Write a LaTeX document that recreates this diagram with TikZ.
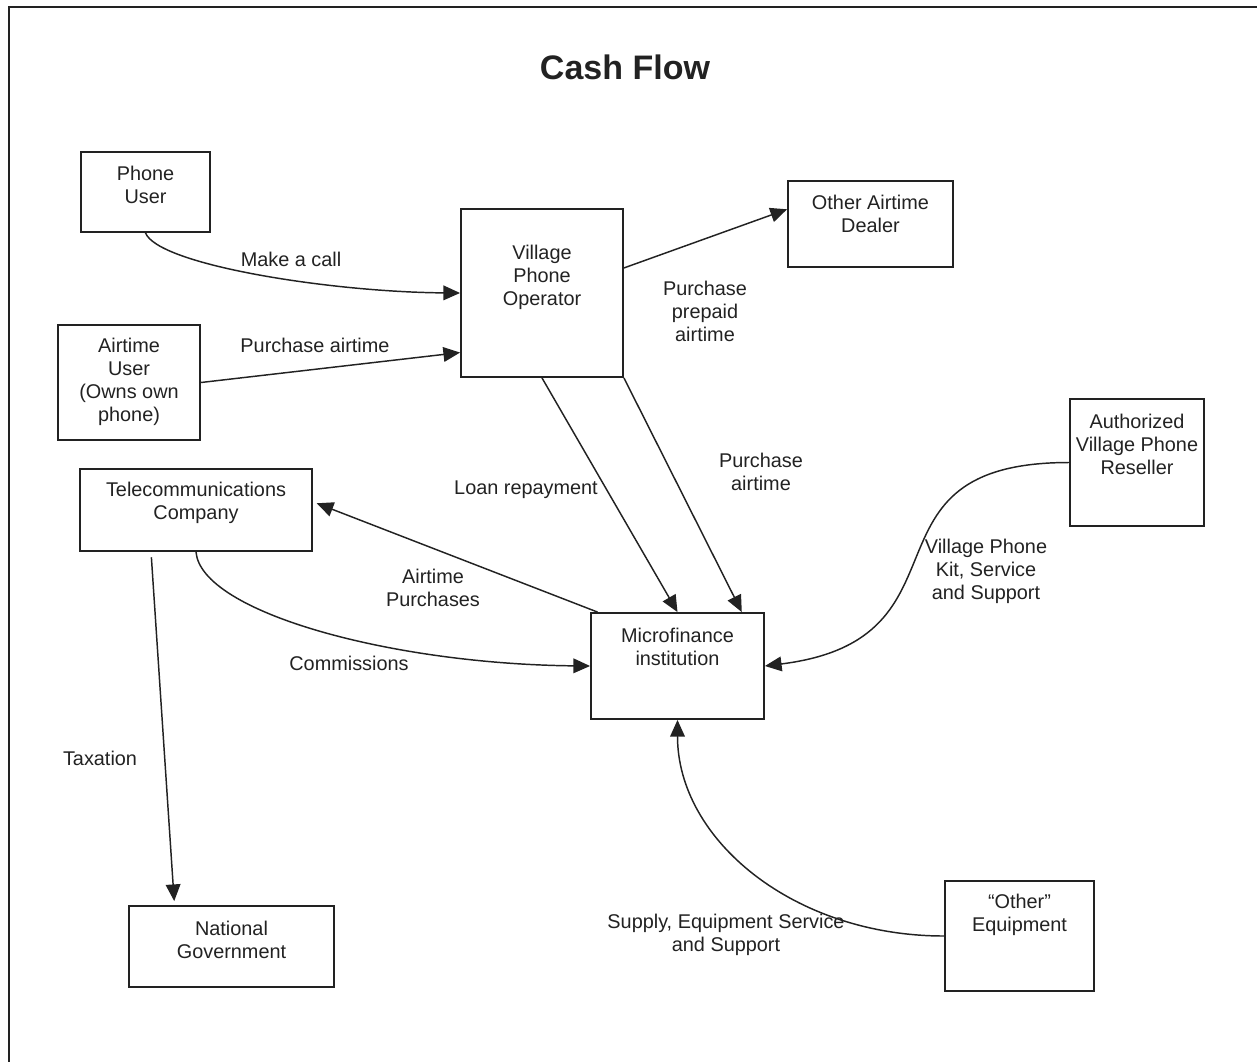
\documentclass[tikz,border=0pt]{standalone}
\usepackage{fontspec}
\setmainfont{Liberation Sans}
\usetikzlibrary{arrows.meta,fit}
\definecolor{ink}{HTML}{222222}

\begin{document}
\begin{tikzpicture}[x=0.75pt,y=0.75pt,>={Triangle[length=12.5pt,width=11pt]}]
 \tikzstyle{box}=[draw=ink,line width=1.4pt,inner sep=0pt]
 \tikzstyle{txt}=[text=ink,align=center,inner sep=0pt,font=\fontsize{14.9}{17.25}\selectfont]
 \tikzstyle{flow}=[draw=ink,line width=1.1pt,->]
 \path[use as bounding box] (0,0) rectangle (1257,-1061);
 \draw[ink,line width=1.5pt] (9,-7) rectangle (1275,-1080);

 \node (title) at (625,-67) [text=ink,font=\fontsize{25.5}{30}\selectfont\bfseries] {Cash Flow};

 % boxes
 \node (pu) [box,fit={(81,-152) (210,-232)}] {};
 \node (au) [box,fit={(58,-325) (200,-440)}] {};
 \node (vpo) [box,fit={(461,-209) (623,-377)}] {};
 \node (oad) [box,fit={(788,-181) (953,-267)}] {};
 \node (tc) [box,fit={(80,-469) (312,-551)}] {};
 \node (mfi) [box,fit={(591,-613) (764,-719)}] {};
 \node (res) [box,fit={(1070,-399) (1204,-526)}] {};
 \node (ng) [box,fit={(129,-906) (334,-987)}] {};
 \node (eq) [box,fit={(945,-881) (1094,-991)}] {};

 \node (pu-t) at (145.5,-184.5) [txt] {Phone\\User};
 \node (au-t) at (129,-381.5) [txt] {Airtime\\User\\(Owns own\\phone)};
 \node (vpo-t) at (542,-277) [txt] {Village\\Phone\\Operator};
 \node (oad-t) at (870.5,-213.5) [txt] {Other Airtime\\Dealer};
 \node (tc-t) at (196,-502.5) [txt] {Telecommunications\\Company};
 \node (mfi-t) at (677.5,-646.5) [txt] {Microfinance\\institution};
 \node (res-t) at (1137,-444) [txt] {Authorized\\Village Phone\\Reseller};
 \node (ng-t) at (231.5,-939.5) [txt] {National\\Government};
 \node (eq-t) at (1019.5,-914.5) [txt] {“Other”\\Equipment};

 % flows
 \draw [flow] (pu.south) .. controls +(13,-32) and +(-130,1) .. (vpo.west);
 \draw [flow] (au.east) to (vpo.216.5);
 \draw [flow] (vpo.17.8) to (oad.170.4);
 \draw [flow] (vpo.south) to (mfi.north);
 \draw [flow] (vpo.south east) to (mfi.40);
 \draw [flow,shorten >=3pt] (mfi.146.3) to (tc.4.9);
 \draw [flow] (tc.south) .. controls +(5,-60) and +(-200,2) .. (mfi.west);
 \draw [flow,shorten <=4pt,shorten >=3pt] (tc.223) to (ng.144.4);
 \draw [flow] (res.west) .. controls +(-220,0) and +(216,27) .. (mfi.east);
 \draw [flow] (eq.west) .. controls +(-150,0) and +(0,-120) .. (mfi.south);

 % labels
 \node (call) at (291,-259) [txt] {Make a call};
 \node (buy) at (315,-345) [txt] {Purchase airtime};
 \node (prepaid) at (705,-311) [txt] {Purchase\\prepaid\\airtime};
 \node (loan) at (526,-490) [txt] {Loan repayment};
 \node (buy2) at (761,-472) [txt] {Purchase\\airtime};
 \node (purch) at (433,-588) [txt] {Airtime\\Purchases};
 \node (comm) at (349,-663) [txt] {Commissions};
 \node (tax) at (100,-758) [txt] {Taxation};
 \node (kit) at (986,-571) [txt] {Village Phone\\Kit, Service\\and Support};
 \node (supply) at (726,-935) [txt] {Supply, Equipment Service\\and Support};
\end{tikzpicture}
\end{document}
